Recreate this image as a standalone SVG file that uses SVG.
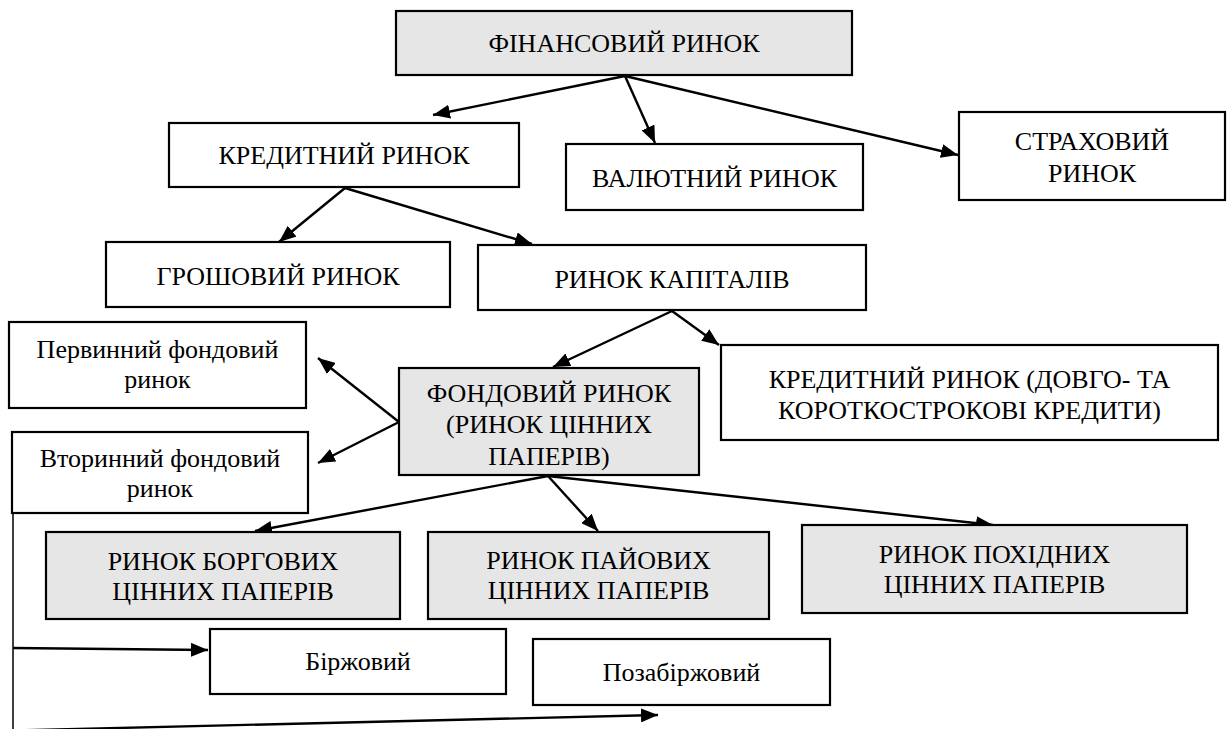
<svg xmlns="http://www.w3.org/2000/svg" width="1231" height="729" viewBox="0 0 1231 729">
  <defs>
    <marker id="arrow" markerUnits="userSpaceOnUse" markerWidth="18" markerHeight="14" refX="17" refY="7" orient="auto">
      <path d="M0,0 L17,7 L0,14 z" fill="#000"/>
    </marker>
    <style>
      .box { fill: #ffffff; stroke: #000; stroke-width: 2.2; }
      .shaded { fill: #e6e6e6; }
      .link { fill: none; stroke: #000; stroke-width: 2.4; marker-end: url(#arrow); }
      .rail { fill: none; stroke: #000; stroke-width: 1.5; }
    </style>
  </defs>
  <rect width="1231" height="729" fill="#ffffff"/>

  <!-- connectors -->
  <g id="connectors">
    <line class="link" x1="625" y1="76" x2="433" y2="115"/>
    <line class="link" x1="625" y1="76" x2="655" y2="143"/>
    <line class="link" x1="625" y1="76" x2="958" y2="155"/>
    <line class="link" x1="345" y1="188" x2="279" y2="242"/>
    <line class="link" x1="345" y1="188" x2="532" y2="244"/>
    <line class="link" x1="672" y1="311" x2="553" y2="367"/>
    <line class="link" x1="672" y1="311" x2="719" y2="345"/>
    <line class="link" x1="399" y1="422" x2="318" y2="358"/>
    <line class="link" x1="399" y1="422" x2="318" y2="463"/>
    <line class="link" x1="548" y1="476" x2="255" y2="531"/>
    <line class="link" x1="548" y1="476" x2="598" y2="531"/>
    <line class="link" x1="548" y1="476" x2="993" y2="525"/>
    <line class="rail" x1="13" y1="513" x2="13" y2="729"/>
    <line class="link" x1="13" y1="648" x2="208" y2="650"/>
    <line class="link" x1="13" y1="730.5" x2="658" y2="715"/>
  </g>

  <!-- nodes; all labels share one serif face -->
  <g font-family="'Liberation Serif', 'Times New Roman', serif" font-size="26" text-anchor="middle" fill="#000">
    <g id="financial-market">
      <rect class="box shaded" x="396" y="11" width="456" height="64"/>
      <text x="624" y="52">ФІНАНСОВИЙ РИНОК</text>
    </g>
    <g id="credit-market">
      <rect class="box" x="169" y="123" width="350" height="64"/>
      <text x="344" y="164">КРЕДИТНИЙ РИНОК</text>
    </g>
    <g id="currency-market">
      <rect class="box" x="566" y="144" width="297" height="66"/>
      <text x="714.5" y="187">ВАЛЮТНИЙ РИНОК</text>
    </g>
    <g id="insurance-market">
      <rect class="box" x="959" y="112" width="266" height="88"/>
      <text x="1092" y="150">СТРАХОВИЙ</text>
      <text x="1092" y="182">РИНОК</text>
    </g>
    <g id="money-market">
      <rect class="box" x="106" y="242" width="344" height="65"/>
      <text x="278" y="285">ГРОШОВИЙ РИНОК</text>
    </g>
    <g id="capital-market">
      <rect class="box" x="478" y="245" width="388" height="65"/>
      <text x="672" y="288">РИНОК КАПІТАЛІВ</text>
    </g>
    <g id="primary-market">
      <rect class="box" x="9" y="322" width="297" height="86"/>
      <text x="157.5" y="358">Первинний фондовий</text>
      <text x="157.5" y="388">ринок</text>
    </g>
    <g id="stock-market">
      <rect class="box shaded" x="399" y="368" width="300" height="107"/>
      <text x="549" y="402">ФОНДОВИЙ РИНОК</text>
      <text x="549" y="433">(РИНОК ЦІННИХ</text>
      <text x="549" y="465">ПАПЕРІВ)</text>
    </g>
    <g id="loan-market">
      <rect class="box" x="721" y="345" width="497" height="95"/>
      <text x="969.5" y="388">КРЕДИТНИЙ РИНОК (ДОВГО- ТА</text>
      <text x="969.5" y="419">КОРОТКОСТРОКОВІ КРЕДИТИ)</text>
    </g>
    <g id="secondary-market">
      <rect class="box" x="12" y="432" width="296" height="81"/>
      <text x="160" y="467">Вторинний фондовий</text>
      <text x="160" y="497">ринок</text>
    </g>
    <g id="debt-securities">
      <rect class="box shaded" x="46" y="532" width="354" height="87"/>
      <text x="223" y="570">РИНОК БОРГОВИХ</text>
      <text x="223" y="600">ЦІННИХ ПАПЕРІВ</text>
    </g>
    <g id="equity-securities">
      <rect class="box shaded" x="428" y="532" width="341" height="87"/>
      <text x="598.5" y="569">РИНОК ПАЙОВИХ</text>
      <text x="598.5" y="599">ЦІННИХ ПАПЕРІВ</text>
    </g>
    <g id="derivative-securities">
      <rect class="box shaded" x="802" y="525" width="385" height="88"/>
      <text x="994.5" y="563">РИНОК ПОХІДНИХ</text>
      <text x="994.5" y="593">ЦІННИХ ПАПЕРІВ</text>
    </g>
    <g id="exchange">
      <rect class="box" x="210" y="629" width="296" height="65"/>
      <text x="358" y="670">Біржовий</text>
    </g>
    <g id="over-the-counter">
      <rect class="box" x="533" y="639" width="297" height="66"/>
      <text x="681.5" y="681">Позабіржовий</text>
    </g>
  </g>
</svg>
